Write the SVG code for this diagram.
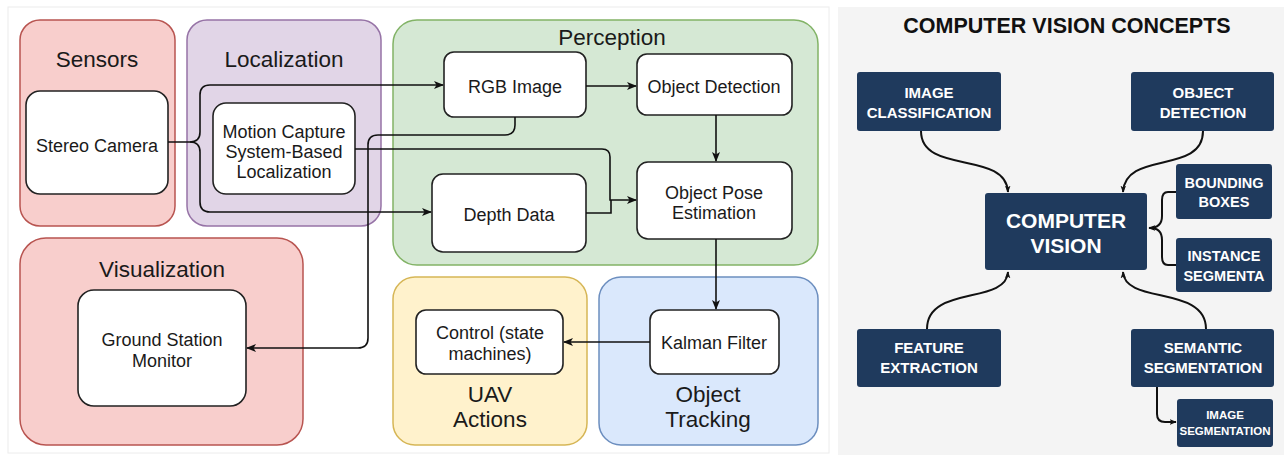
<svg xmlns="http://www.w3.org/2000/svg" width="1284" height="455" viewBox="0 0 1284 455">
<style>
.grp{stroke-width:1.5}
.node{fill:#fff;stroke:#222;stroke-width:1.6}
.t{font-family:"Liberation Sans",Arial,sans-serif;font-size:18px;fill:#1a1a1a;text-anchor:middle}
.gt{font-family:"Liberation Sans",Arial,sans-serif;font-size:22.5px;fill:#1a1a1a;text-anchor:middle}
.conn{fill:none;stroke:#111;stroke-width:1.6}
.nv{fill:#1f3a5d}
.wt{font-family:"Liberation Sans",Arial,sans-serif;font-weight:bold;fill:#fff;text-anchor:middle}
.rc{fill:none;stroke:#111;stroke-width:2}
</style>
<defs>
<marker id="a" viewBox="0 0 10 10" refX="9" refY="5" markerWidth="10" markerHeight="10" markerUnits="userSpaceOnUse" orient="auto">
<path d="M0,1 L10,5 L0,9 L2.5,5 Z" fill="#111"/>
</marker>
<marker id="s" viewBox="0 0 10 10" refX="9" refY="5" markerWidth="7" markerHeight="7" markerUnits="userSpaceOnUse" orient="auto">
<path d="M0,1 L10,5 L0,9 L2.5,5 Z" fill="#111"/>
</marker>
</defs>
<rect width="1284" height="455" fill="#fff"/>
<rect x="8" y="7" width="821" height="446" fill="#fff" stroke="#ececec"/>
<rect x="838" y="7" width="446" height="448" fill="#f4f4f4"/>

<g id="sensors">
<rect class="grp" x="20" y="20" width="155" height="206" rx="20" fill="#f8cecc" stroke="#b85450"/>
<text class="gt" x="97" y="67">Sensors</text>
</g>
<g id="localization">
<rect class="grp" x="187" y="20" width="194" height="206" rx="20" fill="#e1d5e7" stroke="#9673a6"/>
<text class="gt" x="284" y="67">Localization</text>
</g>
<g id="perception">
<rect class="grp" x="393" y="20" width="425" height="245" rx="24" fill="#d5e8d4" stroke="#82b366"/>
<text class="gt" x="612" y="45">Perception</text>
</g>
<g id="visualization">
<rect class="grp" x="20" y="238" width="283" height="207" rx="26" fill="#f8cecc" stroke="#b85450"/>
<text class="gt" x="162" y="277">Visualization</text>
</g>
<g id="uav-actions">
<rect class="grp" x="393" y="277" width="194" height="168" rx="22" fill="#fff2cc" stroke="#d6b656"/>
<text class="gt" x="490" y="402">UAV</text>
<text class="gt" x="490" y="427">Actions</text>
</g>
<g id="object-tracking">
<rect class="grp" x="599" y="277" width="219" height="168" rx="22" fill="#dae8fc" stroke="#6c8ebf"/>
<text class="gt" x="708" y="402">Object</text>
<text class="gt" x="708" y="427">Tracking</text>
</g>

<g id="stereo-camera">
<rect class="node" x="26" y="91" width="142" height="103" rx="14"/>
<text class="t" x="97" y="152">Stereo Camera</text>
</g>
<g id="motion-capture">
<rect class="node" x="213" y="103" width="142" height="91" rx="13"/>
<text class="t" x="284" y="138">Motion Capture</text>
<text class="t" x="284" y="158">System-Based</text>
<text class="t" x="284" y="178">Localization</text>
</g>
<g id="rgb-image">
<rect class="node" x="444" y="52" width="142" height="65" rx="10"/>
<text class="t" x="515" y="93">RGB Image</text>
</g>
<g id="object-detection">
<rect class="node" x="637" y="54" width="155" height="61" rx="10"/>
<text class="t" x="714" y="93">Object Detection</text>
</g>
<g id="object-pose">
<rect class="node" x="637" y="162" width="155" height="77" rx="11"/>
<text class="t" x="714" y="199">Object Pose</text>
<text class="t" x="714" y="219">Estimation</text>
</g>
<g id="depth-data">
<rect class="node" x="432" y="174" width="154" height="78" rx="11"/>
<text class="t" x="509" y="221">Depth Data</text>
</g>
<g id="ground-station">
<rect class="node" x="78" y="290" width="168" height="116" rx="16"/>
<text class="t" x="162" y="346">Ground Station</text>
<text class="t" x="162" y="367">Monitor</text>
</g>
<g id="control">
<rect class="node" x="416" y="310" width="147" height="64" rx="10"/>
<text class="t" x="490" y="339">Control (state</text>
<text class="t" x="490" y="360">machines)</text>
</g>
<g id="kalman-filter">
<rect class="node" x="650" y="310" width="129" height="64" rx="10"/>
<text class="t" x="714" y="349">Kalman Filter</text>
</g>

<g id="connectors">
<path class="conn" d="M168,142 H190 Q200,142 200,132 V95 Q200,85 210,85 H443" marker-end="url(#a)"/>
<path class="conn" d="M190,142 Q200,142 200,152 V202 Q200,212 210,212 H431" marker-end="url(#a)"/>
<path class="conn" d="M355,149 H602 Q610,149 610,157 V200 H636" marker-end="url(#a)"/>
<path class="conn" d="M586,213 H611 V200"/>
<path class="conn" d="M515,117 V125 Q515,135 505,135 H378 Q368,135 368,145 V338 Q368,348 358,348 H247" marker-end="url(#a)"/>
<path class="conn" d="M586,86 H636" marker-end="url(#a)"/>
<path class="conn" d="M716,115 V161" marker-end="url(#a)"/>
<path class="conn" d="M716,239 V309" marker-end="url(#a)"/>
<path class="conn" d="M650,342 H564" marker-end="url(#a)"/>
</g>

<g id="cv-title">
<text x="1067" y="33" font-family="'Liberation Sans',Arial,sans-serif" font-weight="bold" font-size="21.5" fill="#111" text-anchor="middle">COMPUTER VISION CONCEPTS</text>
</g>
<g id="image-classification">
<rect class="nv" x="857" y="72" width="144" height="59" rx="3"/>
<text class="wt" x="929" y="97.5" font-size="15">IMAGE</text>
<text class="wt" x="929" y="117.5" font-size="15">CLASSIFICATION</text>
</g>
<g id="object-detection-cv">
<rect class="nv" x="1131" y="72" width="143" height="59" rx="3"/>
<text class="wt" x="1203" y="97.5" font-size="15">OBJECT</text>
<text class="wt" x="1203" y="117.5" font-size="15">DETECTION</text>
</g>
<g id="bounding-boxes">
<rect class="nv" x="1176" y="164" width="96" height="55" rx="3"/>
<text class="wt" x="1224" y="188" font-size="14.5">BOUNDING</text>
<text class="wt" x="1224" y="207" font-size="14.5">BOXES</text>
</g>
<g id="computer-vision">
<rect class="nv" x="985" y="193" width="162" height="77" rx="3"/>
<text class="wt" x="1066" y="228" font-size="21">COMPUTER</text>
<text class="wt" x="1066" y="253" font-size="21">VISION</text>
</g>
<g id="instance-segmenta">
<rect class="nv" x="1176" y="238" width="96" height="54" rx="3"/>
<text class="wt" x="1224" y="261" font-size="14.5">INSTANCE</text>
<text class="wt" x="1224" y="281" font-size="14.5">SEGMENTA</text>
</g>
<g id="feature-extraction">
<rect class="nv" x="857" y="329" width="144" height="58" rx="3"/>
<text class="wt" x="929" y="353" font-size="15">FEATURE</text>
<text class="wt" x="929" y="373" font-size="15">EXTRACTION</text>
</g>
<g id="semantic-segmentation">
<rect class="nv" x="1131" y="329" width="143" height="58" rx="3"/>
<text class="wt" x="1203" y="353" font-size="15">SEMANTIC</text>
<text class="wt" x="1203" y="373" font-size="15">SEGMENTATION</text>
</g>
<g id="image-segmentation">
<rect class="nv" x="1177" y="399" width="96" height="48" rx="3"/>
<text class="wt" x="1225" y="419" font-size="11.5">IMAGE</text>
<text class="wt" x="1225" y="435" font-size="11.5">SEGMENTATION</text>
</g>

<g id="cv-connectors">
<path class="rc" d="M921,131 C921,175 1006,150 1008,192" marker-end="url(#s)"/>
<path class="rc" d="M1203,131 C1203,175 1125,150 1123,192" marker-end="url(#s)"/>
<path class="rc" d="M927,329 C927,285 1006,305 1008,272" marker-end="url(#s)"/>
<path class="rc" d="M1206,329 C1206,285 1125,305 1123,272" marker-end="url(#s)"/>
<path class="rc" d="M1176,192 H1168 Q1162,192 1162,200 V216 Q1162,228 1149,228" marker-end="url(#s)"/>
<path class="rc" d="M1176,265 H1168 Q1162,265 1162,257 V240 Q1162,228 1150,228"/>
<path class="rc" d="M1157,387 V414 Q1157,422 1165,422 H1176" marker-end="url(#s)"/>
</g>
</svg>
